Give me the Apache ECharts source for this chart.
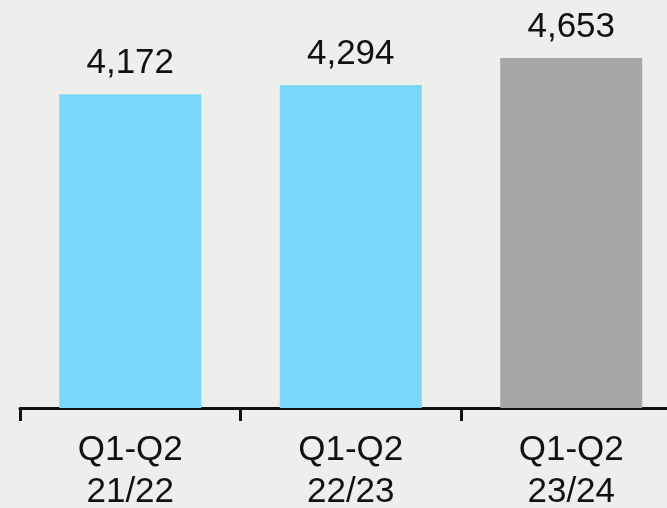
<!DOCTYPE html>
<html>
<head>
<meta charset="utf-8">
<script src="https://cdn.jsdelivr.net/npm/echarts@6/dist/echarts.min.js"></script>
<style>
html,body{margin:0;padding:0;background:#eeeeec;overflow:hidden;width:667px;height:508px;}
#chart{width:684px;height:508px;}
</style>
</head>
<body>
<div id="chart"></div>
<script>
const categories = ['Q1-Q2\n21/22', 'Q1-Q2\n22/23', 'Q1-Q2\n23/24'];
const values = [4172, 4294, 4653];
const barColors = ['#7ad7fa', '#7ad7fa', '#a6a6a6'];

const chart = echarts.init(document.getElementById('chart'));
chart.setOption({
  backgroundColor: '#eeeeec',
  animation: false,
  grid: { left: 20, right: 2.5, top: 32, bottom: 100, containLabel: false, outerBoundsMode: 'none' },
  xAxis: {
    type: 'category',
    data: categories,
    boundaryGap: true,
    axisLine: { show: true, lineStyle: { color: '#111', width: 3 } },
    axisTick: { show: true, alignWithLabel: false, length: 13, lineStyle: { color: '#111', width: 3 } },
    axisLabel: {
      color: '#111', fontFamily: 'Liberation Sans', fontSize: 35,
      lineHeight: 42, margin: 21
    }
  },
  yAxis: { type: 'value', min: 0, max: 5000, show: false, splitLine: { show: false } },
  series: [{
    type: 'bar',
    barWidth: 142,
    data: values.map((v, i) => ({ value: v, itemStyle: { color: barColors[i] } })),
    label: {
      show: true, position: 'top', distance: 13,
      color: '#111', fontFamily: 'Liberation Sans', fontSize: 35,
      formatter: p => p.value.toLocaleString('en-US')
    }
  }]
});
</script>
</body>
</html>
